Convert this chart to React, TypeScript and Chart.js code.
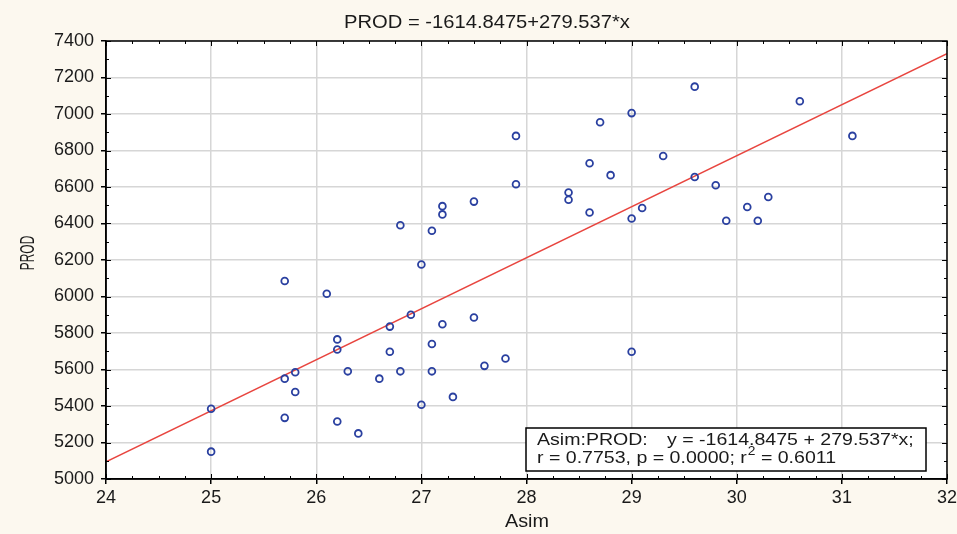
import React, { useEffect, useRef } from "react";
import { Chart, registerables } from "chart.js";

Chart.register(...registerables);

const asim = [
  27.9, 27.9, 27.5, 27.2, 27.2, 26.8, 27.1,
  29.6, 30.6, 29.0, 28.7, 31.1, 29.3, 28.6, 28.8, 29.6, 29.8, 28.4, 28.4, 30.3, 30.1, 29.1, 28.6, 29.0, 29.9, 30.2,
  27.0, 25.7, 26.1, 26.9, 27.5, 26.7, 27.2, 26.2, 27.1, 26.2, 26.7, 27.8, 27.6, 25.8, 26.3, 26.8, 27.1, 25.7, 26.6,
  25.8, 27.3, 25.0, 27.0, 25.7, 26.2, 26.4, 25.0,
  29.0,
];
const prod = [
  6880, 6615, 6520, 6495, 6450, 6390, 6360,
  7150, 7070, 7005, 6955, 6880, 6770, 6730, 6665, 6655, 6610, 6570, 6530, 6545, 6490, 6485, 6460, 6427, 6415, 6415,
  6175, 6085, 6015, 5900, 5885, 5835, 5848, 5765, 5740, 5710, 5697, 5660, 5620, 5585, 5590, 5590, 5590, 5550, 5550,
  5477, 5450, 5385, 5407, 5335, 5315, 5250, 5150,
  5697,
];

const intercept = -1614.8475;
const slope = 279.537;
const xRange = [24, 32];
const yRange = [5000, 7400];

const titleText = "PROD = -1614.8475+279.537*x";
const xTitle = "Asim";
const yTitle = "PROD";
const legendLine1a = "Asim:PROD:";
const legendLine1b = "y = -1614.8475 + 279.537*x;";
const legendLine2a = "r = 0.7753, p = 0.0000; r";
const legendLine2sup = "2";
const legendLine2b = " = 0.6011";

const FONT = "'Liberation Sans', Arial, sans-serif";
const BG = "#fcf8ef";

function stretchedText(ctx: CanvasRenderingContext2D, text: string, x: number, y: number, sx: number, align: "left" | "center") {
  ctx.save();
  ctx.translate(x, y);
  ctx.scale(sx, 1);
  ctx.textAlign = align;
  ctx.fillText(text, 0, 0);
  const w = ctx.measureText(text).width * sx;
  ctx.restore();
  return w;
}

const decorPlugin = {
  id: "decor",
  beforeDraw(chart: any) {
    const { ctx, chartArea: a } = chart;
    ctx.save();
    ctx.fillStyle = BG;
    ctx.fillRect(0, 0, chart.width, chart.height);
    ctx.fillStyle = "#ffffff";
    ctx.fillRect(a.left, a.top, a.right - a.left, a.bottom - a.top);
    ctx.restore();
  },
  afterDraw(chart: any) {
    const { ctx, chartArea: a } = chart;
    const xs = chart.scales.x;
    const ys = chart.scales.y;
    ctx.save();
    ctx.strokeStyle = "#000";
    ctx.lineWidth = 1.5;
    ctx.strokeRect(a.left, a.top, a.right - a.left, a.bottom - a.top);
    ctx.lineWidth = 1;
    ctx.beginPath();
    for (let v = xRange[0]; v <= xRange[1] + 1e-9; v += 0.25) {
      const px = Math.round(xs.getPixelForValue(v)) + 0.5;
      const major = Math.abs(v - Math.round(v)) < 1e-6;
      const len = major ? 5 : 3;
      ctx.moveTo(px, a.bottom);
      ctx.lineTo(px, a.bottom - len);
      ctx.moveTo(px, a.top);
      ctx.lineTo(px, a.top + len);
    }
    for (let v = yRange[0]; v <= yRange[1] + 1e-9; v += 100) {
      const py = Math.round(ys.getPixelForValue(v)) + 0.5;
      const major = v % 200 === 0;
      const len = major ? 5 : 3;
      ctx.moveTo(a.left, py);
      ctx.lineTo(a.left + len, py);
      ctx.moveTo(a.right, py);
      ctx.lineTo(a.right - len, py);
    }
    ctx.stroke();

    ctx.fillStyle = "#1a1a1a";
    ctx.textBaseline = "alphabetic";
    ctx.font = `18px ${FONT}`;
    stretchedText(ctx, titleText, 487, 28, 1.12, "center");
    ctx.font = `18px ${FONT}`;
    stretchedText(ctx, xTitle, 527, 527, 1.1, "center");
    ctx.save();
    ctx.translate(34, 253);
    ctx.rotate(-Math.PI / 2);
    ctx.scale(0.6, 1);
    ctx.font = `20px ${FONT}`;
    ctx.textAlign = "center";
    ctx.fillText(yTitle, 0, 0);
    ctx.restore();

    const bx = 526, by = 428, bw = 400, bh = 43;
    ctx.fillStyle = "#ffffff";
    ctx.fillRect(bx, by, bw, bh);
    ctx.strokeStyle = "#000";
    ctx.lineWidth = 1.5;
    ctx.strokeRect(bx, by, bw, bh);
    ctx.fillStyle = "#1a1a1a";
    ctx.font = `17px ${FONT}`;
    stretchedText(ctx, legendLine1a, 537, 445, 1.15, "left");
    stretchedText(ctx, legendLine1b, 667, 445, 1.15, "left");
    const w2 = stretchedText(ctx, legendLine2a, 537, 463, 1.15, "left");
    ctx.font = `12px ${FONT}`;
    const ws = stretchedText(ctx, legendLine2sup, 537 + w2 + 1, 455, 1.15, "left");
    ctx.font = `17px ${FONT}`;
    stretchedText(ctx, legendLine2b, 537 + w2 + ws + 1, 463, 1.15, "left");
    ctx.restore();
  },
};

export default function App() {
  const ref = useRef<HTMLCanvasElement | null>(null);
  useEffect(() => {
    if (!ref.current) return;
    const points = asim.map((x, i) => ({ x, y: prod[i] }));
    const fit = xRange.map((x) => ({ x, y: intercept + slope * x }));
    const tickFont = { family: FONT, size: 18 };
    const chart = new Chart(ref.current, {
      type: "scatter",
      data: {
        datasets: [
          {
            type: "scatter",
            data: points,
            pointRadius: 3.4,
            pointBorderWidth: 1.8,
            borderColor: "#2a40a0",
            backgroundColor: "rgba(255,255,255,0)",
            pointHoverRadius: 3.4,
            order: 1,
          } as any,
          {
            type: "line",
            data: fit,
            borderColor: "#e8453f",
            borderWidth: 1.5,
            pointRadius: 0,
            fill: false,
            order: 2,
          } as any,
        ],
      },
      options: {
        responsive: false,
        animation: false,
        devicePixelRatio: 1,
        layout: { padding: { top: 41, right: 10, left: 0, bottom: 0 } },
        plugins: { legend: { display: false }, tooltip: { enabled: false }, title: { display: false } },
        scales: {
          x: {
            type: "linear",
            min: xRange[0],
            max: xRange[1],
            ticks: { stepSize: 1, font: tickFont, color: "#1a1a1a", padding: 3, maxRotation: 0, callback: (v: any) => String(v) },
            grid: { color: "#d6d6d6", lineWidth: 1.5, tickLength: 5, tickColor: "#000" },
            border: { color: "#000", width: 1.5 },
            afterFit: (s: any) => { s.height = 55; s.paddingRight = 0; s.paddingLeft = 0; },
          },
          y: {
            type: "linear",
            min: yRange[0],
            max: yRange[1],
            ticks: { stepSize: 200, font: tickFont, color: "#1a1a1a", padding: 7, callback: (v: any) => String(v) },
            grid: { color: "#d6d6d6", lineWidth: 1.5, tickLength: 5, tickColor: "#000" },
            border: { color: "#000", width: 1.5 },
            afterFit: (s: any) => { s.width = 106; s.paddingTop = 0; s.paddingBottom = 0; },
          },
        },
      } as any,
      plugins: [decorPlugin],
    });
    return () => chart.destroy();
  }, []);
  return (
    <div style={{ position: "absolute", left: 0, top: 0, width: 957, height: 534, background: BG }}>
      <canvas ref={ref} width={957} height={534} style={{ display: "block" }} />
    </div>
  );
}
